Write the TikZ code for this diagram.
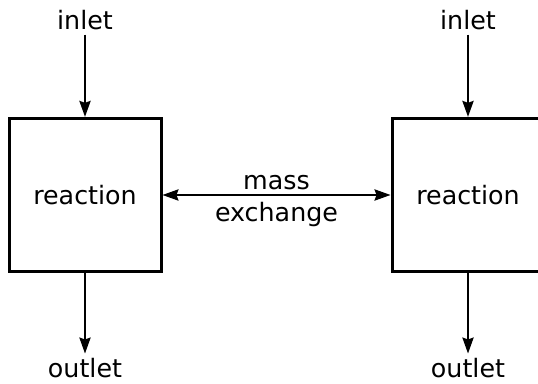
\documentclass[tikz,border=0pt]{standalone}
\usepackage{fontspec}
\setmainfont{DejaVu Sans}
\usetikzlibrary{arrows.meta}

\begin{document}
\begin{tikzpicture}[
    x=0.75pt, y=-0.75pt,
    every node/.style={font=\fontsize{19}{23}\selectfont},
    reactor/.style={draw, line width=2.25pt, minimum width=114pt, minimum height=115pt, inner sep=0pt},
    flow/.style={line width=1.1pt, -{Stealth[length=12pt,width=8.5pt,inset=1.5pt]}},
    exch/.style={line width=1.1pt, {Stealth[length=12pt,width=8.5pt,inset=1.5pt]}-{Stealth[length=12pt,width=8.5pt,inset=1.5pt]}}
  ]
  \useasboundingbox (0,0) rectangle (538,384);

  % the two reactors
  \node[reactor] (lbox) at (85,195) {reaction};
  \node[reactor] (rbox) at (468,195) {reaction};

  % feeds and products
  \node (lin) at (85,20) {inlet};
  \node (rin) at (468,20) {inlet};
  \node (lout) at (85,368) {outlet};
  \node (rout) at (468,368) {outlet};

  \draw[flow] (lin) -- (lbox);
  \draw[flow] (rin) -- (rbox);
  \draw[flow] (lbox) -- (lout);
  \draw[flow] (rbox) -- (rout);

  % exchange between them
  \draw[exch] (lbox.east) -- (rbox.west)
    node[midway, above, inner sep=3pt] (mass) {mass}
    node[midway, below, inner sep=5pt] (exchange) {exchange};
\end{tikzpicture}
\end{document}
